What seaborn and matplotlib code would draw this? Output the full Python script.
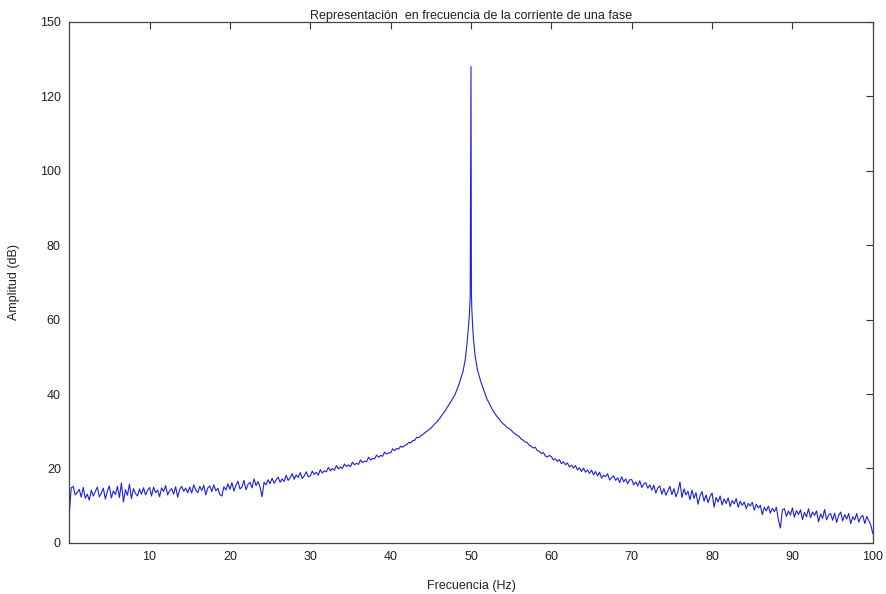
import numpy as np
import pandas as pd
import seaborn as sns
from matplotlib import pyplot as plt

# amplitude, left side: 0 .. 47.5 Hz every 0.25 Hz
amp_left = [
    7.5, 14.8, 15.2, 12.9, 13.6, 14.4, 12.3, 14.9, 12.0, 13.1, 11.5, 14.2, 12.6, 13.8, 15.0, 12.4, 13.3, 14.7, 11.8, 13.9,
    15.3, 12.1, 14.0, 13.0, 15.2, 12.2, 16.1, 11.0, 14.3, 12.8, 15.8, 11.9, 14.6, 13.3, 12.6, 14.5, 13.1, 14.8, 12.9, 14.1,
    14.9, 12.6, 15.0, 13.5, 14.2, 12.4, 14.8, 13.8, 15.4, 12.9, 14.0, 14.6, 13.1, 15.1, 12.3, 14.4, 15.2, 13.9, 14.7, 13.5,
    15.0, 13.4, 15.6, 14.2, 13.5, 15.2, 14.1, 15.5, 12.9, 14.8, 15.3, 13.8, 15.6, 14.0, 14.7, 13.0, 12.6, 15.1, 14.2, 15.9,
    14.4, 16.2, 13.9, 15.5, 16.6, 14.5, 15.0, 16.8, 14.3, 15.7, 16.3, 14.8, 17.2, 15.4, 16.5, 15.0, 12.4, 16.3, 15.6, 17.0,
    15.9, 17.4, 16.0, 16.9, 17.7, 16.3, 17.2, 16.5, 18.2, 16.8, 17.5, 18.6, 17.1, 18.3, 17.6, 18.9, 17.3, 18.0, 19.1, 17.8,
    18.0, 19.3, 18.4, 19.0, 18.2, 19.7, 18.8, 19.4, 19.1, 20.3, 19.4, 20.0, 19.5, 20.8, 19.9, 20.4, 20.0, 21.2, 20.5, 21.0,
    20.5, 21.7, 21.0, 21.4, 21.1, 22.3, 21.6, 22.0, 21.8, 23.0, 22.3, 22.7, 22.6, 23.6, 23.0, 23.5, 23.3, 24.4, 23.9, 24.2,
    24.2, 25.3, 24.8, 25.4, 25.2, 26.0, 25.7, 26.2, 26.4, 27.0, 26.9, 27.5, 27.6, 28.4, 28.3, 28.8, 29.1, 29.6, 30.0, 30.4,
    30.8, 31.4, 32.0, 32.5, 33.2, 33.9, 34.7, 35.4, 36.3, 37.1, 38.0,
]

# around the 50 Hz line (finer sampling)
freq_peak = [48.0, 48.5, 49.0, 49.3, 49.5, 49.7, 49.8, 49.9, 49.95, 50.0,
             50.05, 50.1, 50.2, 50.3, 50.5, 50.8, 51.2, 51.6, 52.0]
amp_peak = [39.8, 42.6, 46.0, 49.5, 53.5, 58.5, 61.5, 66.0, 99.0, 128.0,
            68.0, 63.0, 58.5, 55.0, 50.5, 46.5, 43.5, 41.0, 38.6]

# right side: 52.5 .. 100 Hz every 0.25 Hz
amp_right = [
    36.5, 35.5, 34.7, 33.9, 33.3, 32.6, 32.0, 31.6, 31.0, 30.7,
    30.3, 29.7, 29.3, 28.9, 28.6, 27.9, 27.6, 27.1, 27.0, 26.2, 26.0, 25.5, 25.7, 24.8, 24.6, 24.0, 24.3, 23.4, 23.1, 23.5,
    23.2, 22.3, 22.6, 21.9, 22.4, 21.3, 21.8, 21.0, 21.5, 20.4, 20.9, 20.1, 20.8, 19.6, 20.2, 19.2, 20.1, 19.0, 19.6, 18.7,
    19.6, 18.3, 19.2, 18.0, 19.0, 17.4, 18.2, 17.8, 18.6, 16.9, 17.6, 18.0, 16.8, 17.5, 16.2, 17.8, 16.4, 17.2, 15.9, 17.0,
    17.0, 15.6, 16.4, 15.3, 16.7, 14.9, 15.8, 16.2, 14.7, 15.6, 14.2, 15.5, 13.4, 14.8, 15.3, 13.1, 14.6, 12.8, 14.0, 15.2,
    13.0, 14.6, 12.4, 13.8, 16.4, 12.2, 14.5, 12.9, 13.9, 11.6, 14.2, 12.0, 13.5, 10.4, 12.6, 13.8, 11.2, 12.9, 10.8, 12.5,
    13.4, 9.6, 12.2, 11.0, 12.6, 10.2, 11.8, 10.6, 12.1, 9.8, 11.4, 10.5, 11.9, 9.6, 11.2, 10.1, 11.0, 9.2, 10.6, 9.9,
    10.9, 8.8, 10.4, 9.4, 10.1, 7.6, 9.6, 8.6, 9.9, 8.0, 9.3, 8.4, 9.6, 6.2, 4.0, 8.9, 9.2, 7.1, 8.6, 7.5,
    9.4, 6.9, 8.7, 7.6, 8.9, 6.3, 8.2, 7.0, 9.2, 6.8, 8.3, 7.4, 8.6, 5.7, 7.8, 6.6, 9.0, 6.2, 7.5, 7.9,
    6.1, 8.0, 5.5, 7.4, 8.3, 5.9, 7.6, 6.4, 7.9, 5.2, 7.0, 6.2, 7.9, 5.6, 6.9, 7.4, 5.2, 7.1, 6.0, 4.8,
    2.5,
]

freq_left = 0.25 * np.arange(len(amp_left))
freq_right = 52.5 + 0.25 * np.arange(len(amp_right))

yticks = [0, 20, 40, 60, 80, 100, 120, 140]
ytick_labels = ['0', '20', '40', '60', '80', '100', '120', '150']
xticks = [10, 20, 30, 40, 50, 60, 70, 80, 90, 100]

df = pd.DataFrame({
    'Frecuencia': np.concatenate([freq_left, freq_peak, freq_right]),
    'Amplitud': np.concatenate([amp_left, amp_peak, amp_right]),
})

sns.set_theme(style='white')
plt.rcParams['font.family'] = ['Liberation Sans', 'DejaVu Sans']

fig = plt.figure(figsize=(8.87, 5.94), dpi=100)
ax = fig.add_axes([0.078, 0.086, 0.906, 0.877])

sns.lineplot(data=df, x='Frecuencia', y='Amplitud', ax=ax, sort=False,
             estimator=None, color='#1f1fe0', linewidth=0.8)

ax.set_xlim(0, 100)
ax.set_ylim(0, 140)
ax.set_xticks(xticks)
ax.set_yticks(yticks)
ax.set_yticklabels(ytick_labels)
ax.tick_params(direction='in', top=True, right=True, length=5, width=0.8,
               labelsize=9, colors='#333333', labelcolor='#222222', pad=6)
for s in ax.spines.values():
    s.set_color('#444444')
    s.set_linewidth(0.9)

ax.set_xlabel('Frecuencia (Hz)', fontsize=9, color='#222222', labelpad=12)
ax.set_ylabel('Amplitud (dB)', fontsize=9, color='#222222', labelpad=14)
ax.set_title('Representación  en frecuencia de la corriente de una fase',
             fontsize=9, color='#222222', pad=2)

fig.savefig('out.png', dpi=100)
